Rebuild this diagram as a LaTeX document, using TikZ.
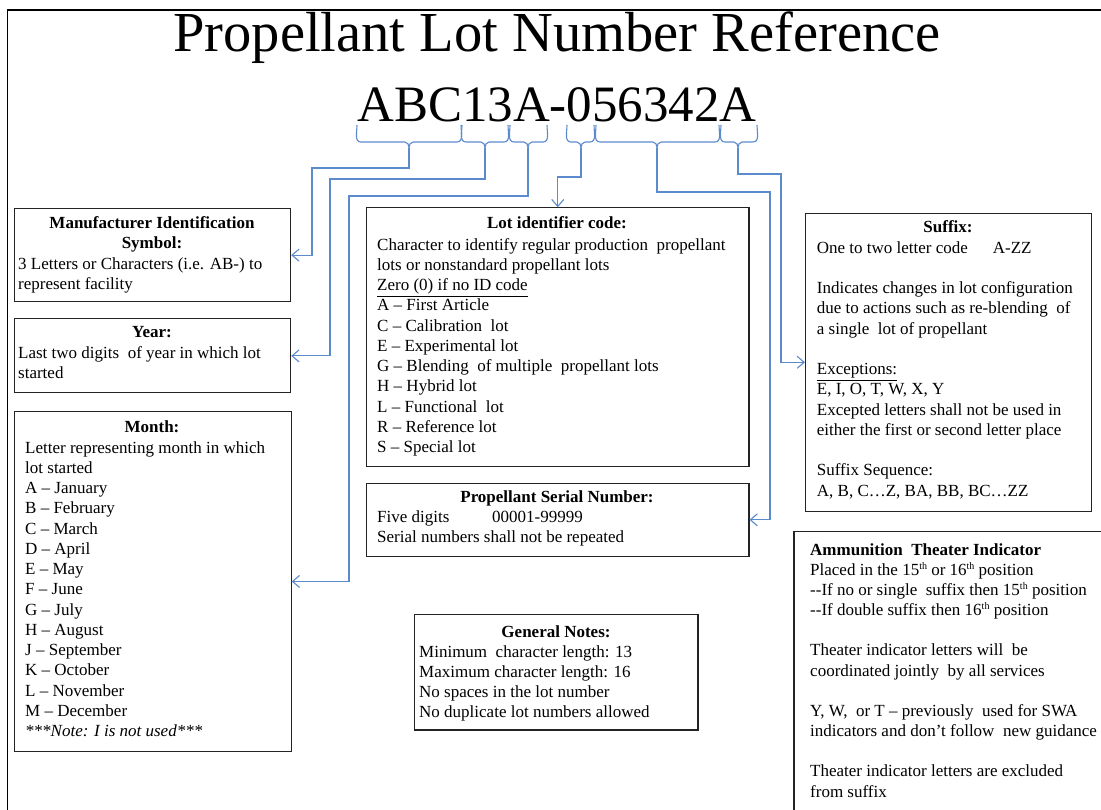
\documentclass[tikz,border=0pt]{standalone}
\usepackage{fontspec}
\setmainfont{Liberation Serif}
\usetikzlibrary{arrows.meta}
\definecolor{conn}{RGB}{91,139,205}
\definecolor{frame}{RGB}{35,35,35}
\newcommand{\bodyfont}{\fontsize{17}{20.25}\selectfont}
\newcommand{\ordsup}[1]{\raisebox{6pt}{\fontsize{10}{10}\selectfont #1}}
\newcommand{\lotbrace}[4]{%
  \draw[brace] (#1,125) to[out=-90,in=180] (#1+4,142) -- (#2-4,142)
     to[out=0,in=90] (#2,148) to[out=90,in=180] (#2+4,142) -- (#3-4,142)
     to[out=0,in=-90] (#3,125);
  \coordinate (#4) at (#2,148);}
\begin{document}
\begin{tikzpicture}[x=1pt,y=-1pt,
  box/.style={draw=frame,line width=1.2pt,inner sep=0pt,anchor=north west},
  body/.style={font=\bodyfont,align=left,inner sep=0pt,anchor=north west},
  head/.style={font=\bodyfont\bfseries,inner sep=0pt,anchor=base},
  brace/.style={draw=conn,line width=1.1pt},
  link/.style={draw=conn,line width=1.1pt,-{Straight Barb[length=7pt,width=12pt]}}]
\useasboundingbox (0,0) rectangle (1101,810);
\fill[white] (0,0) rectangle (1101,810);
% outer frame (cut by page)
\draw[line width=1.3pt] (1101,10) -- (7.5,10) -- (7.5,810);

% titles
\node[inner sep=0pt,anchor=base,font=\fontsize{56.5}{60}\selectfont] (title) at (557,52) {Propellant Lot Number Reference};
\node[inner sep=0pt,anchor=base,font=\fontsize{51}{55}\selectfont] (code) at (557,122) {ABC13A-056342A};

% braces
\lotbrace{357}{409}{461}{t1}
\lotbrace{462}{485}{508}{t2}
\lotbrace{510}{528}{547}{t3}
\lotbrace{567}{581}{594}{t4}
\lotbrace{596}{657}{719}{t5}
\lotbrace{721}{738}{757}{t6}

% Manufacturer
\node[box,minimum width=276pt,minimum height=92.5pt] (man) at (14,208.3) {};
\node[head] (manH1) at (152,229) {Manufacturer Identification};
\node[head] (manH2) at (152,249) {Symbol:};
\node[body] (manB) at (18,269-14.175) {\strut 3 Letters or Characters (i.e. AB-) to\\represent facility};

% Year
\node[box,minimum width=276pt,minimum height=74pt] (year) at (14,318.3) {};
\node[head] (yearH) at (152,338) {Year:};
\node[body] (yearB) at (18,358-14.175) {\strut Last two digits\ \ of year in which lot\\started};

% Month
\node[box,minimum width=277pt,minimum height=339.7pt] (month) at (13.5,411) {};
\node[head] (monthH) at (152,432) {Month:};
\node[body] (monthB) at (25,453-14.175) {\strut Letter representing month in which\\lot started\\A – January\\B – February\\C – March\\D – April\\E – May\\F – June\\G – July\\H – August\\J – September\\K – October\\L – November\\M – December\\\textit{***Note: I is not used***}};

% Lot identifier
\node[box,minimum width=382.3pt,minimum height=258.4pt] (lot) at (366,207.3) {};
\node[head] (lotH) at (557,229) {Lot identifier code:};
\node[body] (lotB) at (377,250-14.175) {\strut Character to identify regular production\ \ propellant\\lots or nonstandard propellant lots\\\underline{Zero (0) if no ID code}\\A – First Article\\C – Calibration\ \ lot\\E – Experimental lot\\G – Blending\ \ of multiple\ \ propellant lots\\H – Hybrid lot\\L – Functional\ \ lot\\R – Reference lot\\S – Special lot};

% Serial
\node[box,minimum width=382.3pt,minimum height=73pt] (serial) at (366,482.7) {};
\node[head] (serialH) at (557,502) {Propellant Serial Number:};
\node[body] (serialB) at (377,522-14.175) {\strut\makebox[115pt][l]{Five digits}00001-99999\\Serial numbers shall not be repeated};

% General notes
\node[box,minimum width=283.3pt,minimum height=115.3pt] (gen) at (414,614) {};
\node[head] (genH) at (556,637) {General Notes:};
\node[body] (genB) at (419,657-14.175) {\strut Minimum\ \ character length: 13\\Maximum character length: 16\\No spaces in the lot number\\No duplicate lot numbers allowed};

% Suffix
\node[box,minimum width=285.7pt,minimum height=298pt] (suf) at (805,212.7) {};
\node[head] (sufH) at (948,233) {Suffix:};
\node[body] (sufB) at (816.7,253-14.175) {\strut\makebox[176pt][l]{One to two letter code}A-ZZ\\[20.25pt]Indicates changes in lot configuration\\due to actions such as re-blending\ \ of\\a single\ \ lot of propellant\\[20.25pt]\underline{Exceptions:}\\E, I, O, T, W, X, Y\\Excepted letters shall not be used in\\either the first or second letter place\\[20.25pt]Suffix Sequence:\\A, B, C…Z, BA, BB, BC…ZZ};

% Ammunition theater indicator (cut by page)
\draw[draw=frame,line width=1.2pt] (1101,531.7) -- (794,531.7) -- (794,810);
\node[head,anchor=base west] (ammoH) at (810,555) {Ammunition\ \ Theater Indicator};
\node[body] (ammoB) at (810,575-14.175) {\strut Placed in the 15\ordsup{th} or 16\ordsup{th} position\\-{}-If no or single\ \ suffix then 15\ordsup{th} position\\-{}-If double suffix then 16\ordsup{th} position\\[20pt]Theater indicator letters will\ \ be\\coordinated jointly\ \ by all services\\[20pt]Y, W,\ \ or T – previously\ \ used for SWA\\indicators and don’t follow\ \ new guidance\\[20pt]Theater indicator letters are excluded\\from suffix};

% connectors
\draw[link] (t1) |- (312,168) |- (man.east);
\draw[link] (t2) |- (330,179) |- (year.east);
\draw[link] (t3) |- (349,196) |- (month.east);
\draw[link] (t4) |- (557,177) -| (lot.north);
\draw[link] (t5) |- (770,192) |- (serial.east);
\draw[link] (t6) |- (781,174) |- (suf.west);
\end{tikzpicture}
\end{document}
